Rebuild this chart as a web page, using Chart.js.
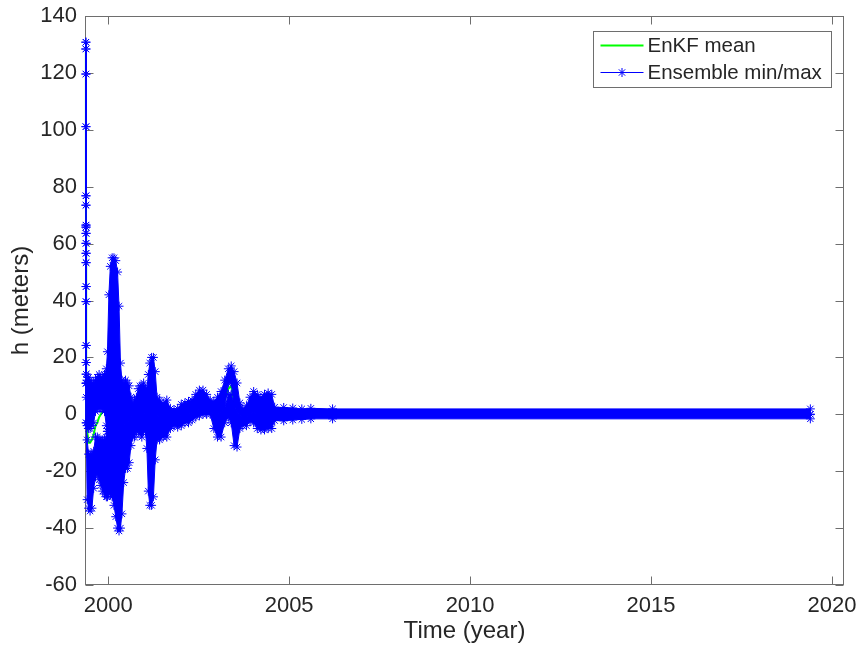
<!DOCTYPE html>
<html>
<head>
<meta charset="utf-8">
<title>EnKF ensemble spread</title>
<script src="https://cdn.jsdelivr.net/npm/chart.js@4.4.1/dist/chart.umd.min.js"></script>
<style>
  html, body { margin: 0; padding: 0; background: #fff; }
  canvas { display: block; }
</style>
</head>
<body>
<canvas id="chart" width="860" height="651"></canvas>
<script>
// sample times, decimal year
const years = [
  1999.385, 1999.386, 1999.387, 1999.388, 1999.389, 1999.390, 1999.391, 1999.392, 1999.393, 1999.395,
  1999.42, 1999.46, 1999.50, 1999.55, 1999.60, 1999.65, 1999.70, 1999.75, 1999.80, 1999.85, 1999.90, 1999.95,
  1999.98, 2000.02, 2000.06, 2000.11, 2000.16, 2000.21, 2000.26, 2000.30, 2000.34, 2000.38,
  2000.43, 2000.48, 2000.53, 2000.58, 2000.63, 2000.68, 2000.73, 2000.78, 2000.83, 2000.88, 2000.93, 2000.98,
  2001.03, 2001.07, 2001.11, 2001.15, 2001.20, 2001.25, 2001.30, 2001.35,
  2001.42, 2001.52, 2001.62, 2001.72, 2001.82, 2001.92,
  2002.02, 2002.12, 2002.22, 2002.32, 2002.42, 2002.52, 2002.62, 2002.72, 2002.82, 2002.92,
  2003.02, 2003.12, 2003.22, 2003.32, 2003.40, 2003.48, 2003.56, 2003.64, 2003.72, 2003.82, 2003.92,
  2004.02, 2004.12, 2004.22, 2004.32, 2004.42, 2004.52, 2004.60, 2004.85,
  2005.10, 2005.35, 2005.60, 2006.20, 2019.40
];

// ensemble min and max both swing from step to step,
// so each one is kept as the band it sweeps (upper / lower edge)
const maxTop = [
  130.8, 119.6, 76.8, 66.5, 63.6, 56.6, 44.9, 24.2, 14.1, 11,
  12, 13, 12, 11, 11, 12, 13, 14, 13, 13, 14, 16,
  22, 42, 52, 55, 55, 54, 50, 38, 18, 12,
  11, 12, 11, 10, 6, 4, 5, 6, 9, 10, 10, 11,
  9, 9, 14, 18, 20, 20, 15, 6,
  5, 4, 5, 2, 1.5, 2,
  3.5, 4, 4.5, 5, 7, 8.5, 8.5, 7, 5, 4.5,
  6, 8, 12, 16, 17, 15, 11, 4, 2, 3, 6,
  8, 7, 6, 7, 7.5, 7, 2.5, 2.4,
  2.2, 1.9, 2.1, 1.9, 1.9
];
const maxBottom = [
  130.8, 119.6, 76.8, 66.5, 63.6, 56.6, 44.9, 24.2, 14.1, 6,
  -4, -5, -5, -4, -3, 1, 2, 2, 2, 2, 1, -4,
  -6, -6, -6, -6, -5, -5, -5, -6, -6, -5,
  -4, -3, -3, -2, -1, 0, 0, 0, 1, 1, 1, 1,
  0, -1, -1, 0, 1, 1, 1, 0,
  -1, -1, -1, -1, -1, -1,
  0, 0, 0, 1, 1, 2, 2, 2, 1, 0,
  0, 1, 2, 11, 11, 4, 1, 0, -1, -1, 0,
  1, 0, 0, 0, 0, 0, 0, 0,
  0, 0, 0, 0, 0
];
const minTop = [
  128.4, 101.1, 73.5, 65.8, 60.1, 53.3, 39.6, 18.2, 10.9, -3,
  -9, -14, -14, -14, -13, -8, -8, -9, -9, -9, -9, -8,
  -6, -6, -6, -6, -5, -5, -5, -6, -6, -5,
  -4, -3, -3, -2, -1, 0, 0, 0, 1, 1, 1, 1,
  0, -1, -1, 0, 1, 1, 1, 0,
  -1, -1, -1, -1, -1, -1,
  0, 0, 0, 1, 1, 2, 2, 2, 1, 0,
  0, 1, 2, 7, 7, 4, 1, 0, -1, -1, 0,
  1, 0, 0, 0, 0, 0, 0, 0,
  0, 0, 0, 0, 0
];
const minBottom = [
  128.4, 101.1, 73.5, 65.8, 60.1, 53.3, 39.6, 18.2, 10.9, -3,
  -30, -33, -34, -33, -26, -22, -21, -23, -25, -27, -28, -29,
  -29, -28, -28, -29, -32, -36, -40, -41, -40, -35,
  -24, -19, -19, -17, -11, -8, -8, -6, -6, -7, -8, -6,
  -6, -12, -27, -32, -32, -29, -16, -9,
  -9, -8, -8, -5, -4, -4.5,
  -4, -3, -3, -2, -1, -0.5, 0, 0, 0, -5,
  -8, -8, -3, -1, -3, -11, -11.5, -5, -4, -4, -2.5,
  -3, -5, -5.5, -5.5, -5, -5, -2.2, -2.3,
  -2.0, -1.8, -1.6, -1.6, -1.6
];
const enkfMean = [
  129.5, 110, 75, 66, 62, 55, 42, 21, 12, 4,
  -6, -10, -10, -9, -7, -4, -3, -1, 0, 1, 1, 2,
  2, 3, 4, 5, 5, 4, 3, 2, 1, 0,
  0, -1, -1, -1, 0, 0, 0, 1, 1, 2, 2, 2,
  2, 1, 0, 0, 1, 1, 1, 0,
  0, 0, 0, 0, 0, 0,
  0, 1, 1, 1, 2, 2, 3, 2, 2, 2,
  3, 3, 5, 9, 10, 4, 2, 1, 0, 0, 1,
  1, 1, 0, 0, 0, 0, 0, 0,
  0, 0, 0, 0, 0
];

const fontFamily = '"Liberation Sans", Arial, Helvetica, sans-serif';
const textColor = '#262626';
const frameColor = '#6e6e6e';
const blue = '#0000ff';
const green = '#00ff00';

Chart.defaults.font.family = fontFamily;
Chart.defaults.color = textColor;

function toPoints(values) {
  return years.map((t, i) => ({ x: t, y: values[i] }));
}

function bandSet(label, values, fill) {
  return {
    label: label,
    data: toPoints(values),
    borderColor: blue,
    backgroundColor: blue,
    borderWidth: 1,
    pointStyle: 'star',
    pointRadius: 4.5,
    pointBorderColor: blue,
    pointBorderWidth: 1,
    fill: fill,
    clip: false,
    order: 1
  };
}

// matlab-like box with inward ticks on all four sides
const axesBox = {
  id: 'axesBox',
  beforeDatasetsDraw(chart) {
    const { ctx, chartArea: a, scales: { x, y } } = chart;
    const L = Math.round(a.left) + 0.5, R = Math.round(a.right) - 0.5;
    const T = Math.round(a.top) + 0.5, B = Math.round(a.bottom) - 0.5;
    const len = 8;
    ctx.save();
    ctx.strokeStyle = frameColor;
    ctx.lineWidth = 1;
    ctx.strokeRect(L, T, R - L, B - T);
    ctx.beginPath();
    x.ticks.forEach(t => {
      const px = Math.round(x.getPixelForValue(t.value)) + 0.5;
      ctx.moveTo(px, B); ctx.lineTo(px, B - len);
      ctx.moveTo(px, T); ctx.lineTo(px, T + len);
    });
    y.ticks.forEach(t => {
      const py = Math.round(y.getPixelForValue(t.value)) + 0.5;
      ctx.moveTo(L, py); ctx.lineTo(L + len, py);
      ctx.moveTo(R, py); ctx.lineTo(R - len, py);
    });
    ctx.stroke();
    ctx.restore();
  }
};

function drawStar(ctx, cx, cy, r) {
  const d = r * Math.SQRT1_2;
  ctx.beginPath();
  ctx.moveTo(cx - r, cy); ctx.lineTo(cx + r, cy);
  ctx.moveTo(cx, cy - r); ctx.lineTo(cx, cy + r);
  ctx.moveTo(cx - d, cy - d); ctx.lineTo(cx + d, cy + d);
  ctx.moveTo(cx - d, cy + d); ctx.lineTo(cx + d, cy - d);
  ctx.stroke();
}

// legend in a box, top right inside the axes
const boxLegend = {
  id: 'boxLegend',
  afterDatasetsDraw(chart) {
    const { ctx, chartArea: a } = chart;
    const entries = [chart.data.datasets[0], chart.data.datasets[1]];
    const w = 238, h = 56;
    const x0 = Math.round(a.right - 13 - w) + 0.5;
    const y0 = Math.round(a.top + 15) + 0.5;
    ctx.save();
    ctx.fillStyle = '#fff';
    ctx.fillRect(x0, y0, w, h);
    ctx.strokeStyle = frameColor;
    ctx.lineWidth = 1;
    ctx.strokeRect(x0, y0, w, h);
    ctx.font = '20.5px ' + fontFamily;
    ctx.textBaseline = 'middle';
    entries.forEach((ds, i) => {
      const cy = y0 + 14 + i * 27;
      ctx.strokeStyle = ds.borderColor;
      ctx.lineWidth = ds.borderWidth;
      ctx.beginPath();
      ctx.moveTo(x0 + 7, cy);
      ctx.lineTo(x0 + 50, cy);
      ctx.stroke();
      if (ds.pointStyle === 'star') {
        ctx.lineWidth = 1;
        drawStar(ctx, x0 + 28.5, cy, 4.5);
      }
      ctx.fillStyle = textColor;
      ctx.fillText(ds.label, x0 + 54, cy + 1);
    });
    ctx.restore();
  }
};

new Chart(document.getElementById('chart'), {
  type: 'line',
  data: {
    datasets: [
      {
        label: 'EnKF mean',
        data: toPoints(enkfMean),
        borderColor: green,
        backgroundColor: green,
        borderWidth: 2,
        pointRadius: 0,
        fill: false,
        clip: false,
        order: 2
      },
      bandSet('Ensemble min/max', maxTop, '+1'),
      bandSet('Ensemble max, lower edge', maxBottom, false),
      bandSet('Ensemble min, upper edge', minTop, '+1'),
      bandSet('Ensemble min, lower edge', minBottom, false)
    ]
  },
  options: {
    responsive: false,
    animation: false,
    devicePixelRatio: 1,
    layout: { padding: { top: 16, right: 16, left: 0, bottom: 0 } },
    plugins: {
      legend: { display: false },
      tooltip: { enabled: false }
    },
    elements: { line: { tension: 0 } },
    scales: {
      x: {
        type: 'linear',
        min: 1999.36,
        max: 2020.33,
        grid: { display: false, drawTicks: false },
        border: { display: false },
        ticks: {
          stepSize: 5,
          includeBounds: false,
          padding: 8,
          font: { size: 22 },
          color: textColor,
          maxRotation: 0,
          callback: v => String(v)
        },
        title: {
          display: true,
          text: 'Time (year)',
          font: { size: 24 },
          color: textColor,
          padding: { top: 0, bottom: 5 }
        },
        afterFit: s => {
          s.height = 66;
          s.paddingLeft = 0;
          s.paddingRight = 0;
        }
      },
      y: {
        type: 'linear',
        min: -60,
        max: 140,
        grid: { display: false, drawTicks: false },
        border: { display: false },
        ticks: {
          stepSize: 20,
          padding: 8,
          font: { size: 22 },
          color: textColor
        },
        title: {
          display: true,
          text: 'h (meters)',
          font: { size: 24 },
          color: textColor,
          padding: { top: 7, bottom: 0 }
        },
        afterFit: s => {
          s.width = 85;
          s.paddingTop = 0;
          s.paddingBottom = 0;
        }
      }
    }
  },
  plugins: [axesBox, boxLegend]
});
</script>
</body>
</html>
